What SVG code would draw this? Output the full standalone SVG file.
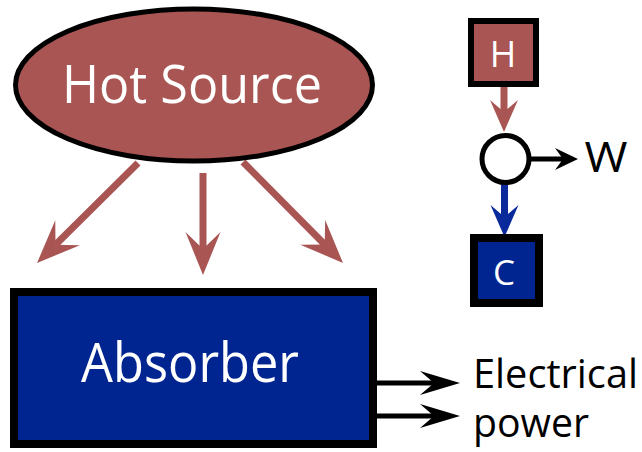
<svg xmlns="http://www.w3.org/2000/svg" width="642" height="452" viewBox="0 0 642 452">
  <style>
    .lbl { font-family: "Open Sans", "Liberation Sans", sans-serif; }
    .white { fill: #ffffff; }
    .black { fill: #000000; }
    .red-line { stroke: #a95553; fill: none; }
    .blue-line { stroke: #0a2a9c; fill: none; }
    .black-line { stroke: #000000; fill: none; }
  </style>
  <defs>
    <marker id="bigRed" markerUnits="userSpaceOnUse" orient="auto" refX="17" refY="0" markerWidth="50" markerHeight="40" overflow="visible">
      <path d="M43,0 L0,-17.5 L17,0 L0,17.5 Z" fill="#a95553"/>
    </marker>
    <marker id="smallRed" markerUnits="userSpaceOnUse" orient="auto" refX="12" refY="0" markerWidth="40" markerHeight="30" overflow="visible">
      <path d="M32,0 L0,-14 L12,0 L0,14 Z" fill="#a95553"/>
    </marker>
    <marker id="smallBlue" markerUnits="userSpaceOnUse" orient="auto" refX="12" refY="0" markerWidth="40" markerHeight="30" overflow="visible">
      <path d="M32,0 L0,-14 L12,0 L0,14 Z" fill="#0a2a9c"/>
    </marker>
    <marker id="wBlack" markerUnits="userSpaceOnUse" orient="auto" refX="8" refY="0" markerWidth="30" markerHeight="30" overflow="visible">
      <path d="M23,0 L0,-11 L8,0 L0,11 Z" fill="#000000"/>
    </marker>
    <marker id="elecBlack" markerUnits="userSpaceOnUse" orient="auto" refX="14" refY="0" markerWidth="45" markerHeight="30" overflow="visible">
      <path d="M40,0 L0,-12 L14,0 L0,12 Z" fill="#000000"/>
    </marker>
  </defs>

  <g id="connectors">
    <line class="red-line" x1="138" y1="163" x2="55.5" y2="244.7" stroke-width="7" marker-end="url(#bigRed)"/>
    <line class="red-line" x1="203" y1="173" x2="203" y2="249" stroke-width="7" marker-end="url(#bigRed)"/>
    <line class="red-line" x1="243" y1="162" x2="324.7" y2="244.5" stroke-width="7" marker-end="url(#bigRed)"/>
    <line class="red-line" x1="504" y1="87" x2="504" y2="112" stroke-width="7" marker-end="url(#smallRed)"/>
    <line class="blue-line" x1="504.5" y1="184" x2="504.5" y2="217" stroke-width="7" marker-end="url(#smallBlue)"/>
    <line class="black-line" x1="530" y1="159" x2="563" y2="159" stroke-width="5" marker-end="url(#wBlack)"/>
    <line class="black-line" x1="377" y1="383" x2="434" y2="383" stroke-width="5" marker-end="url(#elecBlack)"/>
    <line class="black-line" x1="377" y1="416" x2="434" y2="416" stroke-width="5" marker-end="url(#elecBlack)"/>
  </g>

  <g id="hot-source">
    <ellipse cx="194" cy="85" rx="178.5" ry="76" fill="#a95553" stroke="#000000" stroke-width="5"/>
    <text class="lbl white" x="192" y="103" font-size="53" text-anchor="middle" textLength="260" lengthAdjust="spacingAndGlyphs">Hot Source</text>
  </g>

  <g id="absorber">
    <rect x="14" y="292" width="359" height="152" fill="#002590" stroke="#000000" stroke-width="8"/>
    <text class="lbl white" x="190" y="382" font-size="54" text-anchor="middle" textLength="218" lengthAdjust="spacingAndGlyphs">Absorber</text>
  </g>

  <g id="electrical-power">
    <text class="lbl black" x="473" y="388" font-size="40" textLength="165" lengthAdjust="spacingAndGlyphs">Electrical</text>
    <text class="lbl black" x="473" y="437" font-size="40" textLength="116" lengthAdjust="spacingAndGlyphs">power</text>
  </g>

  <g id="H">
    <rect x="471" y="21" width="65" height="63" fill="#a95553" stroke="#000000" stroke-width="6"/>
    <text class="lbl white" x="503" y="67" font-size="36" text-anchor="middle">H</text>
  </g>

  <g id="engine">
    <circle cx="505.5" cy="159" r="23.5" fill="#ffffff" stroke="#000000" stroke-width="5"/>
  </g>

  <g id="W">
    <text class="lbl black" x="606" y="172" font-size="42" text-anchor="middle" textLength="43" lengthAdjust="spacingAndGlyphs">W</text>
  </g>

  <g id="C">
    <rect x="474" y="238" width="65" height="65" fill="#002590" stroke="#000000" stroke-width="8"/>
    <text class="lbl white" x="504" y="285" font-size="35" text-anchor="middle">C</text>
  </g>
</svg>
